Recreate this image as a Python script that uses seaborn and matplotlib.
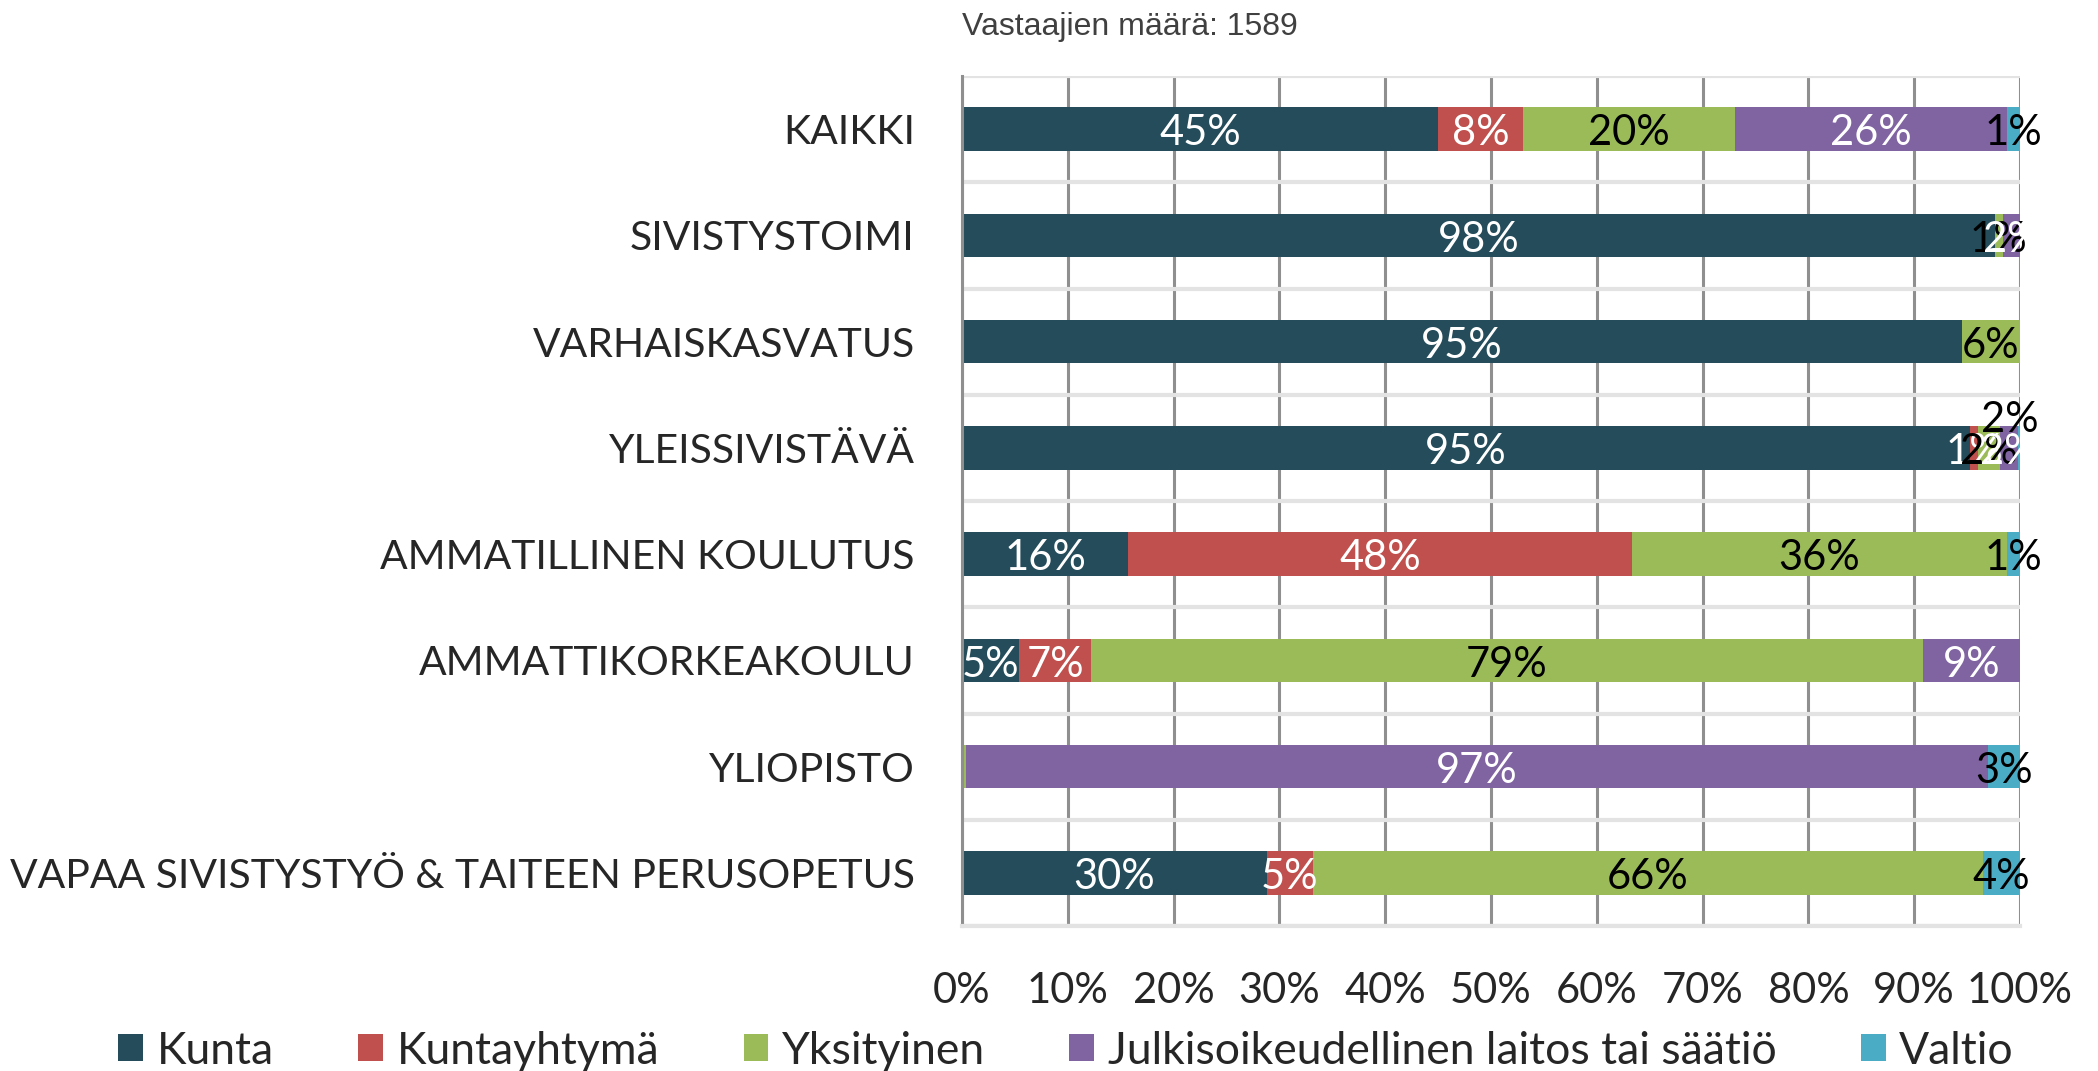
import math
import matplotlib
matplotlib.use("Agg")
import matplotlib.pyplot as plt
from matplotlib.patches import Patch
import numpy as np
import pandas as pd
import seaborn as sns

# ---------------- data ----------------
categories = ["KAIKKI", "SIVISTYSTOIMI", "VARHAISKASVATUS", "YLEISSIVISTÄVÄ",
              "AMMATILLINEN KOULUTUS", "AMMATTIKORKEAKOULU", "YLIOPISTO",
              "VAPAA SIVISTYSTYÖ & TAITEEN PERUSOPETUS"]
series_names = ["Kunta", "Kuntayhtymä", "Yksityinen",
                "Julkisoikeudellinen laitos tai säätiö", "Valtio"]
kunta = [45.0, 97.6, 94.6, 95.3, 15.7, 5.4, 0.0, 30.2]
kuntayhtyma = [8.0, 0.0, 0.0, 0.7, 47.6, 6.8, 0.0, 4.6]
yksityinen = [20.1, 0.8, 5.5, 2.1, 35.5, 78.6, 0.4, 66.4]
julkis = [25.7, 1.6, 0.0, 1.7, 0.0, 9.2, 96.6, 0.0]
valtio = [1.2, 0.0, 0.0, 0.2, 1.2, 0.0, 3.0, 3.7]
x_tick_values = [0, 10, 20, 30, 40, 50, 60, 70, 80, 90, 100]
x_tick_labels = ["0%", "10%", "20%", "30%", "40%", "50%", "60%", "70%", "80%", "90%", "100%"]
title_text = "Vastaajien määrä: 1589"
extra_label_category = "YLEISSIVISTÄVÄ"
extra_label_text = "2%"

colors = ["#244C5A", "#C0504D", "#9BBB59", "#8064A2", "#4BACC6"]
label_colors = ["white", "white", "black", "white", "black"]

# ---------------- style ----------------
sns.set_style("white")
plt.rcParams["font.family"] = ["Lato", "DejaVu Sans"]

W, H, DPI = 2098, 1071, 100
fig = plt.figure(figsize=(W / DPI, H / DPI), dpi=DPI)
ax = fig.add_axes([962 / W, 1 - 926 / H, (2020 - 962) / W, (926 - 76) / H])

series = [kunta, kuntayhtyma, yksityinen, julkis, valtio]
raw = np.array(series, dtype=float)          # shape (5, 8)
totals = raw.sum(axis=0)
norm = raw / totals * 100.0
cum = np.cumsum(norm, axis=0)

# layered cumulative bars (draw longest first)
for i in range(len(series) - 1, -1, -1):
    df = pd.DataFrame({"cat": categories, "val": cum[i]})
    sns.barplot(data=df, x="val", y="cat", orient="h", color=colors[i],
                saturation=1, width=0.41, edgecolor="none", linewidth=0, ax=ax)

ax.set_xlim(0, 100)
ax.set_ylim(len(categories) - 0.5, -0.5)
ax.set_xlabel("")
ax.set_ylabel("")

# grid
ax.set_axisbelow(True)
ax.set_xticks(x_tick_values)
ax.set_xticklabels(x_tick_labels)
ax.xaxis.grid(True, color="#8f8f8f", linewidth=2.2)
ax.set_yticks(np.arange(len(categories)))
ax.set_yticklabels(categories)
ax.set_yticks(np.arange(-0.5, len(categories), 1.0), minor=True)
ax.yaxis.grid(True, which="minor", color="#e3e3e3", linewidth=3)
ax.yaxis.grid(False, which="major")

ax.tick_params(axis="x", length=0, pad=33, labelsize=30)
ax.tick_params(axis="y", which="major", length=0, pad=34, labelsize=29.4)
ax.tick_params(axis="y", which="minor", length=11, width=2, color="#8f8f8f")

for s in ["top", "right"]:
    ax.spines[s].set_visible(False)
ax.spines["left"].set_color("#8f8f8f")
ax.spines["left"].set_linewidth(2.2)
ax.spines["bottom"].set_color("#e3e3e3")
ax.spines["bottom"].set_linewidth(3)

# value labels
for i in range(len(series)):
    for j, cat in enumerate(categories):
        v = raw[i, j]
        r = int(math.floor(v + 0.5))
        if r <= 0:
            continue
        left = cum[i, j] - norm[i, j]
        xc = left + norm[i, j] / 2
        ax.text(xc, j + 0.04, f"{r}%", ha="center", va="center", fontsize=30,
                color=label_colors[i], zorder=5)

# the extra label above YLEISSIVISTÄVÄ bar
jj = categories.index(extra_label_category)
ax.text(99.0, jj - 0.26, extra_label_text, ha="center", va="center",
        fontsize=30, color="black", zorder=5, clip_on=False)

# title
fig.text(962 / W, 1 - 35 / H, title_text, ha="left", va="baseline",
         fontsize=23, color="#404040", family=["Liberation Sans", "DejaVu Sans"])

# legend
handles = [Patch(facecolor=c, edgecolor="none") for c in colors]
fig.legend(handles, series_names, loc="center", bbox_to_anchor=(1066 / W, 1 - 1051 / H),
           ncol=5, frameon=False, fontsize=32, handlelength=0.56, handleheight=0.56,
           handletextpad=0.3, columnspacing=1.9, borderaxespad=0, borderpad=0)

fig.savefig("out.png", dpi=DPI)
